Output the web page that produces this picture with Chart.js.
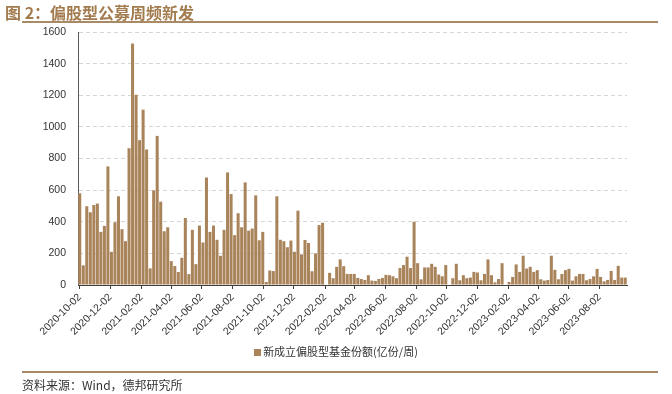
<!DOCTYPE html>
<html lang="zh">
<head>
<meta charset="UTF-8">
<title>偏股型公募周频新发</title>
<script src="https://cdn.jsdelivr.net/npm/chart.js"></script>
<style>
  body { margin: 0; background: #fff; }
  #wrap { position: relative; width: 672px; height: 394px; overflow: hidden;
          font-family: "Noto Sans CJK SC", "Liberation Sans", sans-serif; }
  #chart { position: absolute; left: 0; top: 0; }
  .title { position: absolute; left: 5px; top: 0px; font-size: 16px; font-weight: bold; color: #A27B4E; }
  .rule { position: absolute; left: 22px; width: 636px; height: 1.5px; background: #A88A66; }
  .legend { position: absolute; left: 0; width: 672px; top: 343px; text-align: center; font-size: 11px; color: #333; }
  .legend i { display: inline-block; width: 7px; height: 7px; background: #A9845B; margin-right: 2px; vertical-align: 0; }
  .source { position: absolute; left: 22px; top: 376px; font-size: 12px; color: #333; }
</style>
</head>
<body>
<div id="wrap">
  <canvas id="chart" width="672" height="394"></canvas>
  <div class="title">图 2：偏股型公募周频新发</div>
  <div class="rule" style="top:21px"></div>
  <div class="legend"><i></i>新成立偏股型基金份额(亿份/周)</div>
  <div class="rule" style="top:371px"></div>
  <div class="source">资料来源：Wind，德邦研究所</div>
</div>
<script>
// weekly (Friday) issuance, first week 2020-10-02
const firstWeek = '2020-10-02';
const issuance = [
  580, 124, 498, 460, 506, 515, 336, 374, 750, 210,
  397, 561, 353, 277, 865, 1527, 1203, 916, 1109, 857,
  105, 599, 943, 527, 340, 365, 151, 120, 82, 172,
  424, 69, 349, 132, 376, 269, 680, 336, 376, 286,
  185, 349, 712, 575, 315, 454, 365, 649, 344, 357,
  567, 283, 336, 19, 92, 88, 561, 286, 277, 239,
  281, 210, 470, 194, 285, 266, 87, 200, 379, 394,
  0, 77, 43, 115, 162, 119, 70, 70, 70, 45,
  38, 32, 62, 28, 26, 38, 45, 64, 62, 55,
  43, 107, 126, 179, 107, 400, 138, 36, 111, 111,
  134, 115, 66, 55, 126, 0, 43, 134, 30, 62,
  43, 47, 83, 79, 30, 70, 162, 62, 17, 38,
  138, 0, 19, 51, 130, 83, 185, 104, 115, 83,
  94, 36, 28, 32, 185, 96, 36, 70, 94, 102,
  28, 55, 70, 70, 30, 38, 55, 102, 51, 23,
  32, 89, 32, 121, 47, 47
];
const tickLabels = ['2020-10-02', '2020-12-02', '2021-02-02', '2021-04-02', '2021-06-02',
  '2021-08-02', '2021-10-02', '2021-12-02', '2022-02-02', '2022-04-02', '2022-06-02',
  '2022-08-02', '2022-10-02', '2022-12-02', '2023-02-02', '2023-04-02', '2023-06-02',
  '2023-08-02'];

const DAY = 86400000;
const t0 = Date.parse(firstWeek + 'T00:00:00Z');
const dayOf = s => (Date.parse(s + 'T00:00:00Z') - t0) / DAY;
const points = issuance.map((v, i) => ({ x: i * 7, y: v }));
const tickDays = tickLabels.map(dayOf);

Chart.defaults.font.family = '"Liberation Sans", Arial, sans-serif';
Chart.defaults.color = '#333';

new Chart(document.getElementById('chart'), {
  type: 'bar',
  data: {
    datasets: [{
      label: '新成立偏股型基金份额(亿份/周)',
      data: points,
      backgroundColor: '#A9845B',
      borderWidth: 0,
      barPercentage: 1,
      categoryPercentage: 0.86
    }]
  },
  options: {
    responsive: false,
    animation: false,
    layout: { padding: { left: 0, right: 45, top: 32, bottom: 0 } },
    plugins: { legend: { display: false }, tooltip: { enabled: false } },
    scales: {
      x: {
        type: 'linear',
        offset: false,
        min: -3.5,
        max: (issuance.length - 1) * 7 + 3.5,
        afterBuildTicks: s => { s.ticks = tickDays.map(v => ({ value: v })); },
        afterFit: s => { s.height = 394 - 285; s.paddingLeft = 0; s.paddingRight = 0; },
        ticks: {
          autoSkip: false, maxRotation: 45, minRotation: 45, padding: 2,
          font: { size: 10.5 },
          callback: (v, i) => tickLabels[i]
        },
        grid: { offset: false, drawOnChartArea: false, drawTicks: true, tickLength: 4, tickColor: '#404040' },
        border: { color: '#404040', width: 1 }
      },
      y: {
        min: 0, max: 1600,
        afterFit: s => { s.width = 78; s.paddingTop = 0; s.paddingBottom = 0; },
        ticks: { stepSize: 200, padding: 12, font: { size: 10.5 }, callback: v => String(v) },
        grid: { color: '#D6D6D6', drawTicks: false },
        border: { color: '#595959', width: 1, dash: [4, 3] }
      }
    }
  }
});
</script>
</body>
</html>
